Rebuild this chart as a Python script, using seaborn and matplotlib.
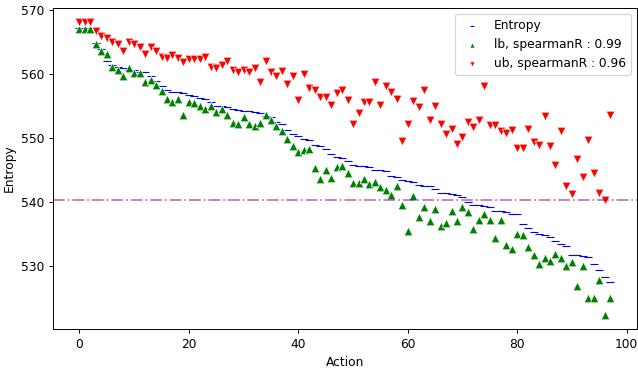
import matplotlib
matplotlib.use('Agg')
import matplotlib.pyplot as plt
import seaborn as sns

# Entropy of each action (sorted), with lower / upper bound estimates
entropy = [567.2, 567.2, 567.1, 564.8, 563.9, 562.0, 561.4, 561.1, 560.9, 560.6,
           560.5, 560.3, 560.2, 559.7, 558.9, 558.0, 557.4, 557.2, 557.1, 557.0,
           556.6, 556.5, 556.2, 556.1, 555.5, 555.0, 554.9, 554.8, 554.4, 554.3,
           554.2, 554.1, 554.0, 553.9, 553.4, 553.2, 552.4, 552.2, 551.2, 550.5,
           550.3, 549.8, 549.6, 548.9, 548.7, 548.2, 547.5, 547.0, 546.8, 546.3,
           545.7, 545.6, 545.5, 545.4, 545.0, 544.9, 544.8, 544.0, 543.9, 543.3,
           543.2, 543.0, 542.6, 542.5, 542.4, 541.9, 541.4, 541.3, 541.2, 541.1,
           540.7, 540.0, 539.5, 539.4, 539.3, 539.2, 538.6, 538.5, 538.4, 538.1,
           538.0, 536.5, 535.8, 535.2, 534.9, 534.8, 534.4, 533.8, 533.3, 533.1,
           531.7, 531.6, 531.5, 531.3, 530.3, 529.3, 528.2, 527.4]

lb = [567.0, 567.0, 567.0, 564.6, 563.6, 563.0, 561.0, 560.6, 559.6, 560.9,
      560.1, 560.1, 558.7, 559.0, 558.2, 557.3, 556.0, 555.6, 556.1, 553.6,
      555.6, 555.4, 554.9, 554.4, 554.9, 554.0, 554.5, 553.5, 552.3, 552.1,
      553.2, 552.1, 551.8, 552.3, 553.5, 552.8, 551.8, 551.1, 549.8, 548.7,
      547.8, 548.0, 548.2, 545.2, 543.5, 545.0, 543.7, 545.4, 545.5, 544.4,
      542.9, 542.9, 543.6, 542.7, 543.0, 542.2, 541.8, 541.0, 542.4, 539.5,
      535.4, 540.9, 537.6, 539.1, 537.0, 538.9, 536.2, 536.7, 538.5, 536.9,
      539.1, 538.3, 535.7, 537.1, 538.1, 537.1, 534.3, 537.1, 533.2, 532.6,
      535.0, 534.8, 532.9, 531.6, 530.3, 531.2, 530.7, 531.8, 531.2, 530.0,
      530.6, 526.8, 529.9, 525.0, 525.0, 527.8, 522.3, 525.0]

ub = [568.0, 568.0, 568.0, 566.7, 565.9, 565.6, 564.9, 564.6, 563.5, 564.9,
      564.6, 564.1, 563.1, 564.1, 563.5, 562.6, 562.5, 562.9, 562.5, 561.8,
      562.3, 562.3, 562.3, 562.6, 561.1, 560.9, 561.3, 562.0, 560.5, 560.3,
      560.6, 560.3, 560.8, 558.7, 562.0, 560.3, 559.6, 560.4, 558.4, 559.7,
      555.8, 560.0, 557.7, 557.5, 556.4, 556.3, 555.1, 557.0, 557.4, 555.9,
      552.2, 553.8, 555.5, 555.6, 558.7, 555.1, 558.0, 557.2, 556.0, 549.4,
      552.2, 555.7, 554.8, 557.5, 552.7, 555.0, 552.1, 550.6, 551.3, 549.0,
      550.1, 552.5, 551.7, 552.7, 558.0, 552.0, 552.0, 551.1, 550.7, 551.2,
      548.4, 548.4, 551.4, 549.3, 548.9, 553.4, 548.7, 545.7, 551.0, 542.5,
      541.2, 546.7, 543.8, 549.6, 544.4, 541.4, 540.3, 553.6]

threshold = 540.3
actions = list(range(len(entropy)))

fig, ax = plt.subplots(figsize=(638 / 88, 371 / 88), dpi=88)
fig.subplots_adjust(left=0.083, right=0.998, top=0.979, bottom=0.112)

sns.scatterplot(x=actions, y=entropy, marker='_', s=45, linewidth=0.9,
                color='blue', label='Entropy', ax=ax)
sns.scatterplot(x=actions, y=lb, marker='^', s=50, color='green',
                label='lb, spearmanR : 0.99', ax=ax)
sns.scatterplot(x=actions, y=ub, marker='v', s=50, color='red',
                label='ub, spearmanR : 0.96', ax=ax)
ax.axhline(threshold, color='purple', alpha=0.5, linestyle='-.')

ax.set_xlabel('Action')
ax.set_ylabel('Entropy')
ax.legend(loc='upper right', markerscale=0.6)

fig.savefig('out.png', dpi=88)
